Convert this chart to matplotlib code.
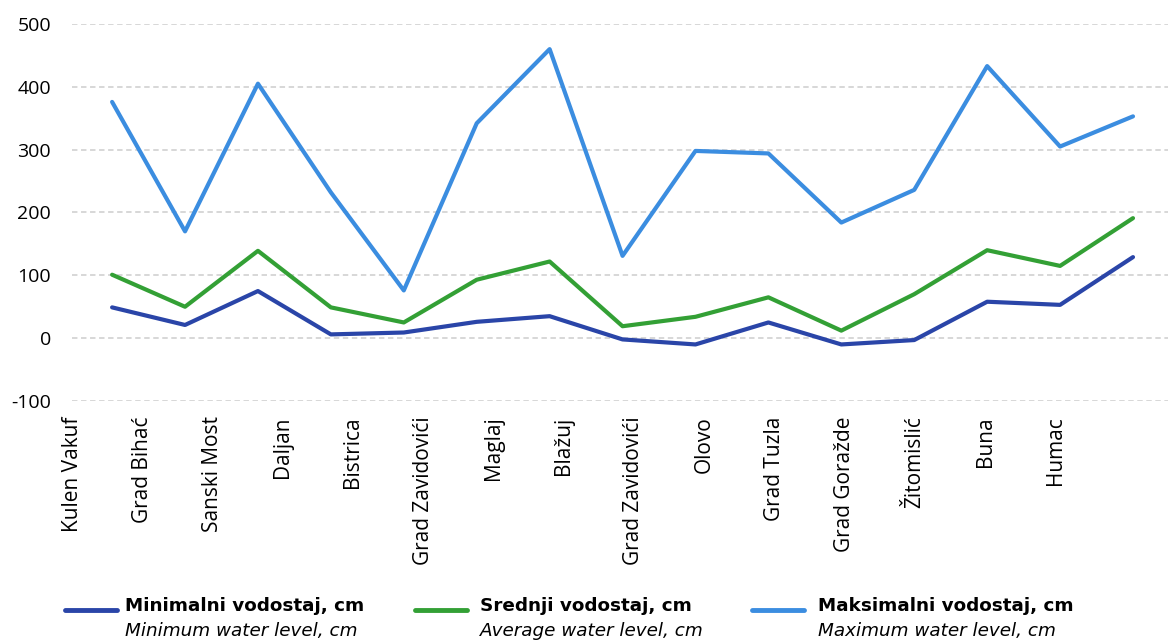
import matplotlib
matplotlib.use("Agg")
import matplotlib.pyplot as plt
import numpy as np
from matplotlib.lines import Line2D

stations = ["Kulen Vakuf", "Grad Bihać", "Sanski Most", "Daljan", "Bistrica",
            "Grad Zavidovići", "Maglaj", "Blažuj", "Grad Zavidovići", "Olovo",
            "Grad Tuzla", "Grad Goražde", "Žitomislić", "Buna", "Humac"]
min_level = [49, 21, 75, 6, 9, 26, 35, -2, -10, 25, -10, -3, 58, 53, 129]
avg_level = [101, 50, 139, 49, 25, 93, 122, 19, 34, 65, 12, 70, 140, 115, 191]
max_level = [376, 170, 405, 232, 76, 342, 460, 131, 298, 294, 184, 236, 433, 305, 353]
yticks = [-100, 0, 100, 200, 300, 400, 500]

series_bs = ["Minimalni vodostaj, cm", "Srednji vodostaj, cm", "Maksimalni vodostaj, cm"]
series_en = ["Minimum water level, cm", "Average water level, cm", "Maximum water level, cm"]
colors = ["#2a45a8", "#33a035", "#3b8de0"]

fig = plt.figure(figsize=(11.68, 6.41), dpi=100)
ax = fig.add_axes([72/1168, 1 - 401/641, 1 - 72/1168, (401 - 24)/641])

x = np.arange(len(stations))
for vals, c in zip([min_level, avg_level, max_level], colors):
    ax.plot(x, vals, color=c, lw=3.0, solid_capstyle="round", solid_joinstyle="round", zorder=3)

ax.set_xlim(-0.49, 14.48)
ax.set_ylim(-100, 500)
ax.set_yticks(yticks)
ax.set_yticklabels([str(v) for v in yticks], fontfamily="Open Sans", fontsize=14)
ax.tick_params(axis="y", length=0, pad=15)
ax.grid(axis="y", color="#d4d4d4", linestyle=(0, (3, 2)), lw=1.3, zorder=0)

# category labels (offset slightly relative to the points as in the reference)
label_pos = np.arange(len(stations)) * (70.5 / 73.2) - 0.55
ax.set_xticks(label_pos)
ax.set_xticklabels(stations, rotation=90, fontfamily="Open Sans", fontsize=15,
                   ha="center", va="top")
ax.tick_params(axis="x", length=0, pad=11)

for s in ax.spines.values():
    s.set_visible(False)

# legend
handle_x = [65, 415, 752]
text_x = [125, 480, 818]
for i in range(3):
    fig.add_artist(Line2D([handle_x[i]/1168, (handle_x[i] + 52)/1168],
                          [1 - 610/641, 1 - 610/641], color=colors[i], lw=3.5,
                          solid_capstyle="round", transform=fig.transFigure))
    fig.text(text_x[i]/1168, 1 - 606/641, series_bs[i], fontfamily="DejaVu Sans",
             fontweight="bold", fontsize=13.2, va="center", ha="left")
    fig.text(text_x[i]/1168, 1 - 631/641, series_en[i], fontfamily="DejaVu Sans",
             fontstyle="italic", fontsize=13.2, va="center", ha="left")

fig.savefig("out.png", dpi=100)
